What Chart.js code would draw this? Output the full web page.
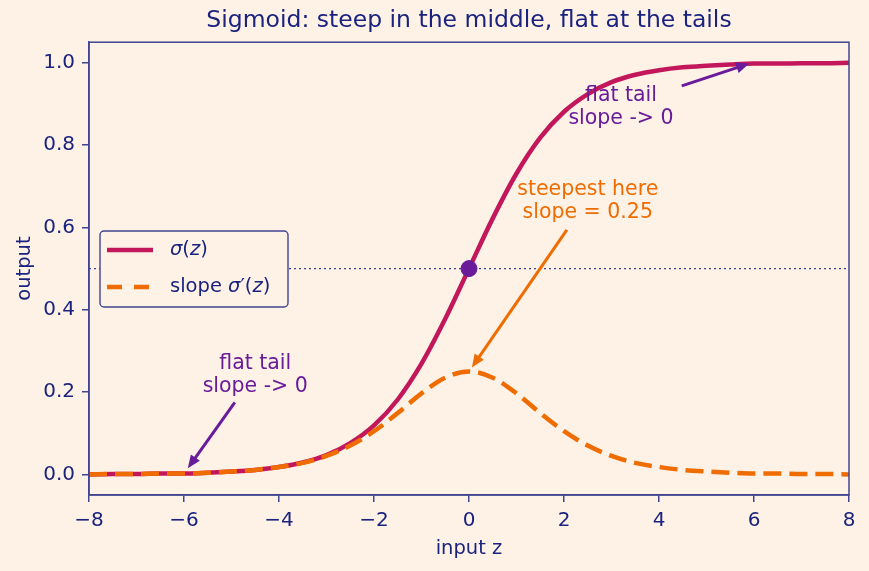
<!DOCTYPE html>
<html>
<head>
<meta charset="utf-8">
<script src="https://cdn.jsdelivr.net/npm/chart.js@4.4.1/dist/chart.umd.min.js"></script>
<style>
  html, body { margin: 0; padding: 0; background: #fef2e7; }
  #wrap { width: 869px; height: 571px; }
</style>
</head>
<body>
<div id="wrap"><canvas id="chart" width="869" height="571"></canvas></div>
<script>
// values
const zValues = [-8, -7.5, -7, -6.5, -6, -5.5, -5, -4.5, -4, -3.5, -3, -2.5, -2, -1.5, -1, -0.5,
    0, 0.5, 1, 1.5, 2, 2.5, 3, 3.5, 4, 4.5, 5, 5.5, 6, 6.5, 7, 7.5, 8];
const sigmaValues = [0.000, 0.001, 0.001, 0.002, 0.002, 0.004, 0.007, 0.011, 0.018, 0.029, 0.047,
    0.076, 0.119, 0.182, 0.269, 0.378, 0.500, 0.622, 0.731, 0.818, 0.881, 0.924, 0.953, 0.971,
    0.982, 0.989, 0.993, 0.996, 0.998, 0.998, 0.999, 0.999, 1.000];
const slopeValues = [0.000, 0.001, 0.001, 0.002, 0.002, 0.004, 0.007, 0.011, 0.018, 0.028, 0.045,
    0.070, 0.105, 0.149, 0.197, 0.235, 0.250, 0.235, 0.197, 0.149, 0.105, 0.070, 0.045, 0.028,
    0.018, 0.011, 0.007, 0.004, 0.002, 0.002, 0.001, 0.001, 0.000];
const midPoint = [{ x: 0, y: 0.5 }];
const halfLine = [{ x: -8, y: 0.5 }, { x: 8, y: 0.5 }];
const xTicks = [-8, -6, -4, -2, 0, 2, 4, 6, 8];
const yTicks = [0, 0.2, 0.4, 0.6, 0.8, 1.0];

const annotations = [
    { lines: ["flat tail", "slope -> 0"], x: 3.2, y: 0.893, tail: [4.48, 0.944], tip: [5.9, 0.998], color: "#6a1b9a" },
    { lines: ["steepest here", "slope = 0.25"], x: 2.5, y: 0.665, tail: [2.06, 0.594], tip: [0.06, 0.26], color: "#ef6c00" },
    { lines: ["flat tail", "slope -> 0"], x: -4.5, y: 0.242, tail: [-4.93, 0.175], tip: [-5.92, 0.015], color: "#6a1b9a" },
];

const FONT = "DejaVu Sans";
const INK = "#1a237e";
const SPINE = "#3f4491";
const BG = "#fef2e7";
const SIG_COLOR = "#c2185b";
const SLOPE_COLOR = "#ef6c00";
const DASH = [18, 8];
const TICK_SIZE = 20;

const toPoints = (ys) => zValues.map((z, i) => ({ x: z, y: ys[i] }));

function drawArrow(ctx, x1, y1, x2, y2, color) {
    const ang = Math.atan2(y2 - y1, x2 - x1);
    const headLen = 13, headW = 5.5;
    ctx.save();
    ctx.strokeStyle = color;
    ctx.fillStyle = color;
    ctx.lineWidth = 3;
    ctx.beginPath();
    ctx.moveTo(x1, y1);
    ctx.lineTo(x2 - Math.cos(ang) * headLen * 0.8, y2 - Math.sin(ang) * headLen * 0.8);
    ctx.stroke();
    ctx.beginPath();
    ctx.moveTo(x2, y2);
    ctx.lineTo(x2 - Math.cos(ang) * headLen + Math.sin(ang) * headW, y2 - Math.sin(ang) * headLen - Math.cos(ang) * headW);
    ctx.lineTo(x2 - Math.cos(ang) * headLen - Math.sin(ang) * headW, y2 - Math.sin(ang) * headLen + Math.cos(ang) * headW);
    ctx.closePath();
    ctx.fill();
    ctx.restore();
}

// text made of plain and italic parts, like matplotlib mathtext
function drawMath(ctx, parts, x, y, size) {
    let cx = x;
    parts.forEach(p => {
        ctx.font = (p.it ? "oblique " : "") + size + "px '" + FONT + "'";
        ctx.fillText(p.t, cx, y);
        cx += ctx.measureText(p.t).width;
    });
}

const extrasPlugin = {
    id: "extras",
    afterDatasetsDraw(chart) {
        const { ctx, chartArea: a, scales } = chart;
        const xs = scales.x, ys = scales.y;

        // annotations
        annotations.forEach(an => {
            drawArrow(ctx, xs.getPixelForValue(an.tail[0]), ys.getPixelForValue(an.tail[1]),
                xs.getPixelForValue(an.tip[0]), ys.getPixelForValue(an.tip[1]), an.color);
            ctx.save();
            ctx.fillStyle = an.color;
            ctx.font = "20.5px '" + FONT + "'";
            ctx.textAlign = "center";
            ctx.textBaseline = "middle";
            const cx = xs.getPixelForValue(an.x), cy = ys.getPixelForValue(an.y);
            const lh = 23;
            an.lines.forEach((t, i) => {
                ctx.fillText(t, cx, cy + (i - (an.lines.length - 1) / 2) * lh);
            });
            ctx.restore();
        });

        // frame on all four sides
        ctx.save();
        ctx.strokeStyle = SPINE;
        ctx.lineWidth = 1.5;
        ctx.strokeRect(a.left, a.top, a.right - a.left, a.bottom - a.top);
        ctx.restore();

        // legend
        ctx.save();
        const lx = 100, ly = 231, lw = 188, lhgt = 76, r = 4;
        ctx.beginPath();
        ctx.roundRect(lx, ly, lw, lhgt, r);
        ctx.fillStyle = BG;
        ctx.fill();
        ctx.strokeStyle = SPINE;
        ctx.lineWidth = 1.4;
        ctx.stroke();

        ctx.lineWidth = 4.5;
        ctx.strokeStyle = SIG_COLOR;
        ctx.beginPath();
        ctx.moveTo(107, 250);
        ctx.lineTo(153, 250);
        ctx.stroke();

        ctx.strokeStyle = SLOPE_COLOR;
        ctx.setLineDash([15, 12]);
        ctx.beginPath();
        ctx.moveTo(107, 287);
        ctx.lineTo(153, 287);
        ctx.stroke();
        ctx.setLineDash([]);

        ctx.fillStyle = INK;
        ctx.textBaseline = "middle";
        drawMath(ctx, [{ t: "\u03c3", it: true }, { t: "(", it: false }, { t: "z", it: true }, { t: ")", it: false }], 170, 250, 19.5);
        drawMath(ctx, [{ t: "slope ", it: false }, { t: "\u03c3", it: true }, { t: "\u2032", it: false },
            { t: "(", it: false }, { t: "z", it: true }, { t: ")", it: false }], 170, 287, 19.5);
        ctx.restore();
    },
};

new Chart(document.getElementById("chart"), {
    type: "line",
    data: {
        datasets: [
            {
                label: "half",
                data: halfLine,
                borderColor: SPINE,
                borderWidth: 1.2,
                borderDash: [2, 3],
                pointRadius: 0,
                order: 3,
            },
            {
                label: "sigma",
                data: toPoints(sigmaValues),
                borderColor: SIG_COLOR,
                borderWidth: 4.5,
                pointRadius: 0,
                cubicInterpolationMode: "monotone",
                order: 2,
            },
            {
                label: "slope",
                data: toPoints(slopeValues),
                borderColor: SLOPE_COLOR,
                borderWidth: 4.5,
                borderDash: DASH,
                pointRadius: 0,
                cubicInterpolationMode: "monotone",
                order: 1,
            },
            {
                label: "mid",
                type: "scatter",
                data: midPoint,
                backgroundColor: "#6a1b9a",
                borderColor: "#6a1b9a",
                pointRadius: 8,
                showLine: false,
                order: 0,
            },
        ],
    },
    options: {
        responsive: false,
        animation: false,
        layout: { padding: { left: 0, right: 20, top: 0, bottom: 0 } },
        plugins: {
            legend: { display: false },
            tooltip: { enabled: false },
            title: {
                display: true,
                text: "Sigmoid: steep in the middle, flat at the tails",
                color: INK,
                fullSize: false,
                font: { family: FONT, size: 23.5, weight: "normal" },
                padding: { top: 7, bottom: 7 },
            },
        },
        scales: {
            x: {
                type: "linear",
                min: -8,
                max: 8,
                afterBuildTicks: (s) => { s.ticks = xTicks.map(v => ({ value: v })); },
                afterFit: (s) => { s.height = 76; },
                grid: { drawOnChartArea: false, tickLength: 7, color: SPINE, lineWidth: 1.5 },
                border: { display: true, color: SPINE, width: 1.5 },
                ticks: {
                    color: INK,
                    padding: 7,
                    autoSkip: false,
                    maxRotation: 0,
                    font: { family: FONT, size: TICK_SIZE },
                    callback: (v) => (v < 0 ? "\u2212" + Math.abs(v) : String(v)),
                },
                title: {
                    display: true,
                    text: "input z",
                    color: INK,
                    font: { family: FONT, size: 19.5 },
                    padding: { top: 0, bottom: 10 },
                },
            },
            y: {
                type: "linear",
                min: -0.05,
                max: 1.05,
                afterBuildTicks: (s) => { s.ticks = yTicks.map(v => ({ value: v })); },
                afterFit: (s) => { s.width = 89; },
                grid: { drawOnChartArea: false, tickLength: 7, color: SPINE, lineWidth: 1.5 },
                border: { display: true, color: SPINE, width: 1.5 },
                ticks: {
                    color: INK,
                    padding: 7,
                    font: { family: FONT, size: TICK_SIZE },
                    callback: (v) => v.toFixed(1),
                },
                title: {
                    display: true,
                    text: "output",
                    color: INK,
                    font: { family: FONT, size: 19.5 },
                    padding: { top: 13, bottom: 0 },
                },
            },
        },
    },
    plugins: [extrasPlugin],
});
</script>
</body>
</html>
